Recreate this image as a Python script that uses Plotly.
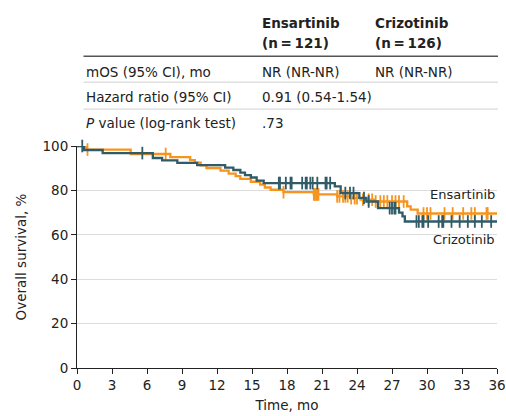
import numpy as np
import plotly.graph_objects as go

# Kaplan-Meier step data (time in months, survival in %)
ens_time = [0, 0.8, 4.6, 8.0, 9.7, 10.1, 10.6, 11.1, 12.3, 13.0, 13.6, 14.0, 14.9,
            15.7, 16.1, 16.6, 17.7, 20.3, 22.3, 23.5, 24.3, 25.5, 28.3, 28.6, 29.2, 36]
ens_surv = [100, 98.4, 96.4, 95.0, 93.6, 92.5, 91.3, 90.1, 88.9, 87.6, 86.4, 85.2, 83.9,
            82.6, 81.3, 80.3, 79.2, 78.2, 77.3, 76.5, 75.8, 75.0, 72.8, 71.3, 69.6, 69.6]
ens_cens = [0.9, 7.6, 17.7, 20.3, 20.4, 20.5, 20.6, 20.7, 22.3, 22.5, 22.8, 23.0, 23.2,
            23.5, 23.8, 24.0, 24.5, 25.0, 25.3, 25.6, 26.0, 26.3, 26.6, 27.0, 27.3, 27.6,
            28.0, 29.7, 30.0, 30.3, 31.5, 32.2, 33.1, 33.8, 34.1, 35.1, 35.2]

cri_time = [0, 0.6, 2.2, 6.5, 7.3, 8.6, 10.3, 12.7, 13.4, 14.0, 14.4, 14.9, 15.4, 16.0,
            22.1, 22.6, 24.2, 24.8, 25.8, 27.6, 27.9, 28.1, 36]
cri_surv = [100, 98.2, 96.8, 94.6, 93.5, 92.4, 91.4, 90.3, 89.2, 88.0, 86.9, 85.8, 84.4, 83.3,
            81.8, 78.8, 76.6, 75.0, 72.0, 70.0, 68.3, 66.0, 66.0]
cri_cens = [0.45, 5.6, 17.3, 17.4, 17.9, 18.3, 18.4, 19.3, 19.6, 19.7, 20.0, 20.2, 20.6,
            21.3, 21.4, 21.7, 23.0, 23.4, 23.7, 24.6, 25.0, 26.8, 27.0, 27.2, 27.3,
            29.1, 29.3, 29.6, 29.7, 30.1, 31.0, 31.3, 31.4, 32.1, 32.8, 33.5, 34.1,
            34.7, 35.5]

x_ticks = list(range(0, 37, 3))
y_ticks = [0, 20, 40, 60, 80, 100]

ORANGE = "#f7941d"
TEAL = "#305b67"
FONT = "DejaVu Sans"
TXT = "#222"


def surv_at(times, surv, t):
    idx = np.searchsorted(np.array(times), np.array(t), side="right") - 1
    return np.array(surv)[idx]


fig = go.Figure()
for times, surv, cens, color in [(ens_time, ens_surv, ens_cens, ORANGE),
                                 (cri_time, cri_surv, cri_cens, TEAL)]:
    fig.add_trace(go.Scatter(x=times, y=surv, mode="lines", line_shape="hv",
                             line=dict(color=color, width=2.3), cliponaxis=False,
                             showlegend=False))
    fig.add_trace(go.Scatter(x=cens, y=surv_at(times, surv, cens), mode="markers",
                             marker=dict(symbol="line-ns-open", size=9, color=color,
                                         line=dict(color=color, width=1.8)),
                             cliponaxis=False, showlegend=False))

# curve labels
fig.add_annotation(x=36, y=78, xref="x", yref="y", text="Ensartinib", showarrow=False,
                   xanchor="right", font=dict(size=13, color=TXT))
fig.add_annotation(x=36, y=57.8, xref="x", yref="y", text="Crizotinib", showarrow=False,
                   xanchor="right", font=dict(size=13, color=TXT))

# summary table above the plot (pixel positions converted to paper coords)
L, R, T, B = 76.5, 497, 146, 368.5


def px(x):
    return (x - L) / (R - L)


def py(y):
    return (B - y) / (B - T)


table = [
    (260, 23, "<b>Ensartinib</b>"), (373, 23, "<b>Crizotinib</b>"),
    (260, 43, "<b>(n\u2009=\u2009121)</b>"), (373, 43, "<b>(n\u2009=\u2009126)</b>"),
    (84, 72, "mOS (95% CI), mo"), (260, 72, "NR (NR-NR)"), (373, 72, "NR (NR-NR)"),
    (84, 97, "Hazard ratio (95% CI)"), (260, 97, "0.91 (0.54-1.54)"),
    (84, 123, "<i>P</i> value (log-rank test)"), (260, 123, ".73"),
]
for x, y, txt in table:
    fig.add_annotation(x=px(x), y=py(y), xref="paper", yref="paper", text=txt,
                       showarrow=False, xanchor="left", yanchor="middle",
                       font=dict(size=13.5, color=TXT))

for y, color, w in [(56, "#555", 1.5), (82, "#d0d0d0", 1), (109, "#d0d0d0", 1)]:
    fig.add_shape(type="line", xref="paper", yref="paper", x0=px(83), x1=px(498),
                  y0=py(y), y1=py(y), line=dict(color=color, width=w))

fig.update_layout(
    width=506, height=416,
    margin=dict(l=76.5, r=9, t=146, b=47.5, autoexpand=False),
    paper_bgcolor="white", plot_bgcolor="white",
    font=dict(family=FONT, size=13.5, color=TXT),
    xaxis=dict(range=[0, 36], tickvals=x_ticks, showline=True, linecolor=TXT,
               linewidth=1, ticks="outside", ticklen=5, tickcolor=TXT,
               showgrid=False, zeroline=False, automargin=False,
               tickfont=dict(size=13.5),
               title=dict(text="Time, mo", standoff=8, font=dict(size=13.5))),
    yaxis=dict(range=[0, 100], tickvals=y_ticks, showline=True, linecolor=TXT,
               linewidth=1, ticks="outside", ticklen=5, tickcolor=TXT,
               showgrid=True, gridcolor="#dcdcdc", gridwidth=1, zeroline=False,
               automargin=False, tickfont=dict(size=13.5),
               title=dict(text="Overall survival, %", standoff=12, font=dict(size=13.5))),
)

fig.write_html("out.html", config={"displayModeBar": False},
               post_script="document.body.style.margin='0';")
